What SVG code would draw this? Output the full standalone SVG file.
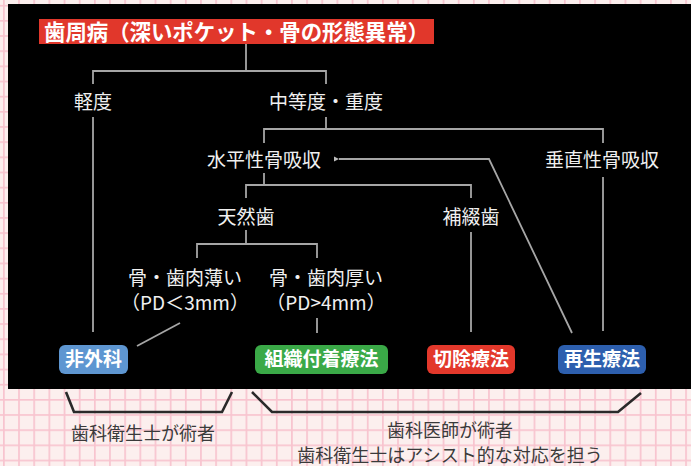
<svg xmlns="http://www.w3.org/2000/svg" width="691" height="466" viewBox="0 0 691 466">
<defs>
<pattern id="grid" patternUnits="userSpaceOnUse" x="3" y="4.84" width="15.16" height="15.16">
<rect width="15.16" height="15.16" fill="#fcefee"/>
<path d="M0.8 0V15.16M0 0.8H15.16" stroke="#f8c4cf" stroke-width="1.8" fill="none"/>
</pattern>
<marker id="arr" markerWidth="6" markerHeight="6" refX="0" refY="3" orient="auto" markerUnits="userSpaceOnUse">
<path d="M5 0.5L0 3L5 5.5Z" fill="#bdbdbd"/>
</marker>
<style>
.t{font-family:"Noto Sans CJK JP","Noto Sans",sans-serif;font-size:19px;fill:#f0f0f0;text-anchor:middle}
.p{font-family:"Noto Sans CJK JP","Noto Sans",sans-serif;font-size:19px;font-weight:bold;fill:#ffffff;text-anchor:middle}
.b{font-family:"Noto Sans CJK JP","Noto Sans",sans-serif;font-size:18px;fill:#3a3a3a;text-anchor:middle}
.c{fill:none;stroke:#a6a6a6;stroke-width:1.8}
.k{fill:none;stroke:#2a2a2a;stroke-width:2.6}
</style>
</defs>
<rect width="691" height="466" fill="url(#grid)"/>
<rect x="8" y="4" width="683" height="385" fill="#000"/>

<g id="title">
<rect x="39" y="19" width="395" height="25" fill="#e1372b"/>
<text x="44" y="40" font-family="'Noto Sans CJK JP',sans-serif" font-size="21.5" font-weight="bold" fill="#fff" textLength="385" lengthAdjust="spacingAndGlyphs">歯周病（深いポケット・骨の形態異常）</text>
</g>

<g id="connectors">
<path class="c" d="M246 44V71M93 84V71H326V84"/>
<path class="c" d="M93 117V332"/>
<path class="c" d="M326 117V129M264 143V129H603V143"/>
<path class="c" d="M264 173V185M246 198V185H471V198"/>
<path class="c" d="M246 230V244M197 258V244H317V258"/>
<path class="c" d="M471 232V332"/>
<path class="c" d="M603 177V331"/>
<path class="c" d="M317 318V333"/>
<path class="c" d="M180 323L137 346"/>
<path class="c" d="M572 333L489 159H339" marker-end="url(#arr)"/>
</g>

<g id="n-mild"><text class="t" x="93" y="109">軽度</text></g>
<g id="n-moderate"><text class="t" x="326" y="109">中等度・重度</text></g>
<g id="n-horizontal"><text class="t" x="264" y="167">水平性骨吸収</text></g>
<g id="n-vertical"><text class="t" x="602" y="167">垂直性骨吸収</text></g>
<g id="n-natural"><text class="t" x="246" y="224">天然歯</text></g>
<g id="n-prosthetic"><text class="t" x="471" y="224">補綴歯</text></g>
<g id="n-thin"><text class="t" x="185" y="285">骨・歯肉薄い</text><text class="t" x="185" y="310">（PD＜3mm）</text></g>
<g id="n-thick"><text class="t" x="326" y="285">骨・歯肉厚い</text><text class="t" x="326" y="310">（PD&gt;4mm）</text></g>

<g id="p-nonsurgical"><rect x="59" y="345" width="69" height="29" rx="6" fill="#5e96d1"/><text class="p" x="93.5" y="366">非外科</text></g>
<g id="p-attachment"><rect x="255" y="345" width="133" height="29" rx="6" fill="#3aa947"/><text class="p" x="321.5" y="366">組織付着療法</text></g>
<g id="p-resection"><rect x="427" y="345" width="88" height="29" rx="6" fill="#e3382b"/><text class="p" x="471" y="366">切除療法</text></g>
<g id="p-regeneration"><rect x="558" y="345" width="88" height="29" rx="6" fill="#2d5fae"/><text class="p" x="602" y="366">再生療法</text></g>

<g id="brackets">
<path class="k" d="M66 392L74 412H222L232 392"/>
<path class="k" d="M252 392L272 412H618L641 393"/>
</g>
<g id="l-hygienist"><text class="b" x="143" y="440">歯科衛生士が術者</text></g>
<g id="l-dentist"><text class="b" x="450" y="437">歯科医師が術者</text><text class="b" x="450" y="462">歯科衛生士はアシスト的な対応を担う</text></g>
</svg>
